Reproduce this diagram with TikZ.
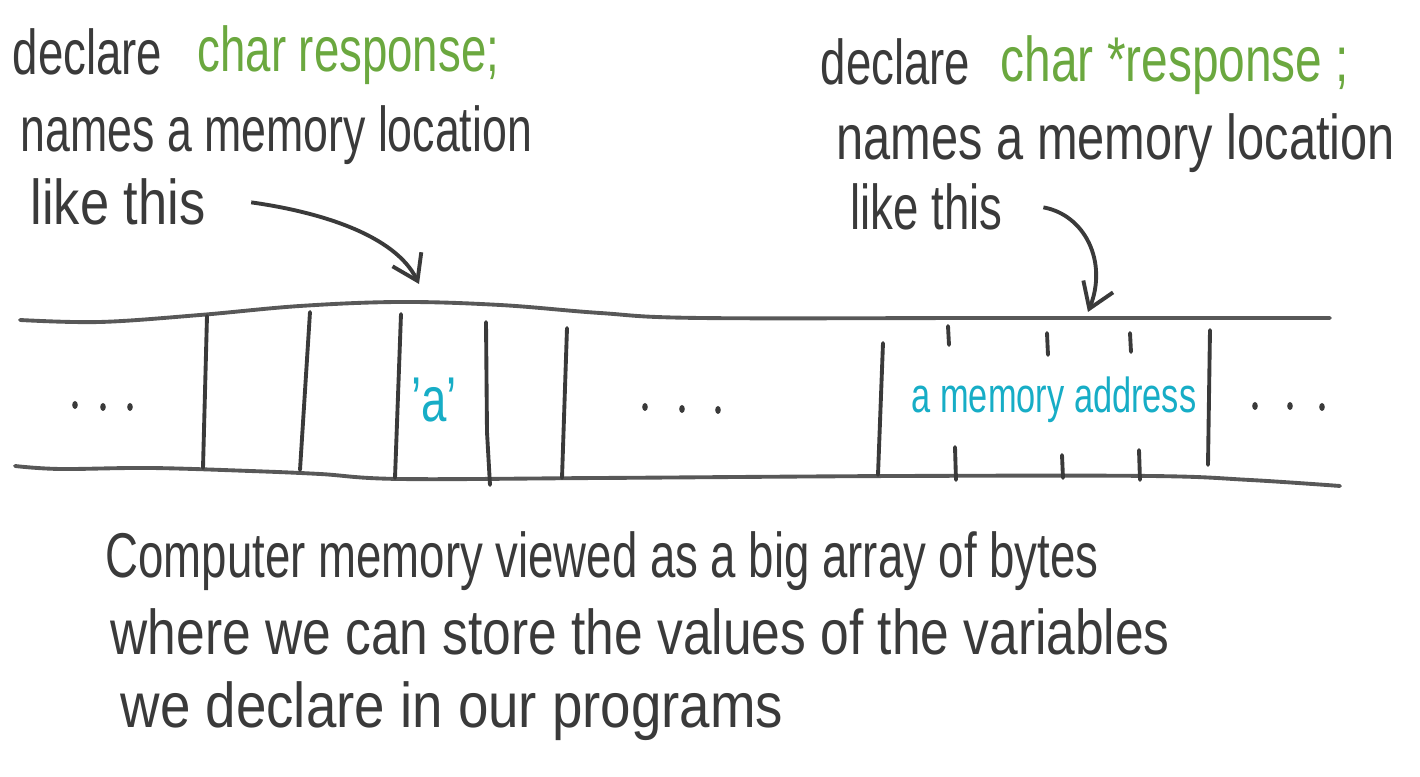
\documentclass[tikz,border=0pt]{standalone}
\usepackage{fontspec}
\setmainfont{Liberation Sans}[FakeStretch=0.72]
\usetikzlibrary{arrows.meta, positioning}
\definecolor{pen}{HTML}{3A3A3A}
\definecolor{codegreen}{HTML}{6BA83F}
\definecolor{valteal}{HTML}{17ADC6}
\newcommand{\handx}[2]{\scalebox{#1}[1]{#2}}

\begin{document}
\begin{tikzpicture}[x=0.01cm, y=-0.01cm,
    note/.style={anchor=base west, inner sep=0pt, text=pen,
                 font=\fontsize{18}{20}\selectfont},
    code/.style={note, text=codegreen},
    value/.style={inner sep=0pt, text=valteal, font=\fontsize{14}{16}\selectfont},
    wall/.style={draw=pen, line width=1.1pt, line cap=round},
    rail/.style={draw=pen!85, line width=1.1pt, line cap=round},
    pointer/.style={draw=pen, line width=1.1pt, -{Straight Barb[length=2.4mm, width=3.2mm]}}
]
    \useasboundingbox (0,0) rectangle (1420,777);

    % Left declaration
    \node[note] (declL) at (12,75) {declare};
    \node[code] (codeL) at (197,72) {char response;};
    \node[note] (namesL) at (20,152) {\handx{0.98}{names a memory location}};
    \node[note] (likeL) at (30,225) {\handx{1.15}{like this}};

    % Right declaration
    \node[note] (declR) at (820,85) {declare};
    \node[code] (codeR) at (1000,82) {\handx{1.05}{char *response ;}};
    \node[note] (namesR) at (836,160) {\handx{1.07}{names a memory location}};
    \node[note] (likeR) at (850,230) {like this};

    % Memory strip rails
    \draw[rail] plot[smooth, tension=0.6] coordinates {(20,320) (100,322) (200,315)
        (300,306) (400,302) (500,305) (600,313) (700,318) (1000,318) (1330,318)};
    \draw[rail] plot[smooth, tension=0.6] coordinates {(15,466) (60,469) (150,468)
        (250,471) (320,474) (400,479) (600,478) (900,476) (1150,476) (1250,480) (1340,486)};

    % Byte walls
    \draw[wall] (207,316) -- (203,468);
    \draw[wall] (310,312) -- (300,470);
    \draw[wall] (401,314) -- (395,478);
    \draw[wall] (486,322) -- (487,432) -- (490,485);
    \draw[wall] (567,328) -- (562,478);
    \draw[wall] (883,343) -- (878,475);
    \draw[wall] (1210,330) -- (1208,465);

    % Short byte marks inside the pointer
    \foreach \x/\t/\b in {948/326/345, 1047/333/355, 1130/333/352} {
        \draw[wall] (\x,\t) -- (\x+1,\b);
    }
    \foreach \x/\t/\b in {955/447/480, 1062/455/478, 1139/450/480} {
        \draw[wall] (\x,\t) -- (\x+1,\b);
    }

    % Ellipses
    \foreach \x/\y in {75/405, 103/407, 130/407, 645/407, 682/409, 718/410,
                       1255/406, 1290/406, 1322/407} {
        \fill[pen] (\x,\y) ellipse (2.8 and 4);
    }

    % Stored values
    \node[value, font=\fontsize{18}{20}\selectfont] (valA) at (434,400) {'a'};
    \node[value] (valAddr) at (1054,400) {\handx{0.97}{a memory address}};

    % Pointers to the locations
    \coordinate (slotL) at (419,284);
    \coordinate (slotR) at (1088,312);
    \draw[pointer] ([xshift=0.45cm]likeL.east) .. controls (320,212) and (395,235) .. (slotL);
    \draw[pointer] ([xshift=0.4cm]likeR.east) .. controls (1085,215) and (1108,262) .. (slotR);

    % Caption
    \node[note] (capA) at (105,578) {Computer memory viewed as a big array of bytes};
    \node[note] (capB) at (110,655) {\handx{1.13}{where we can store the values of the variables}};
    \node[note] (capC) at (120,728) {\handx{1.2}{we declare in our programs}};
\end{tikzpicture}
\end{document}
